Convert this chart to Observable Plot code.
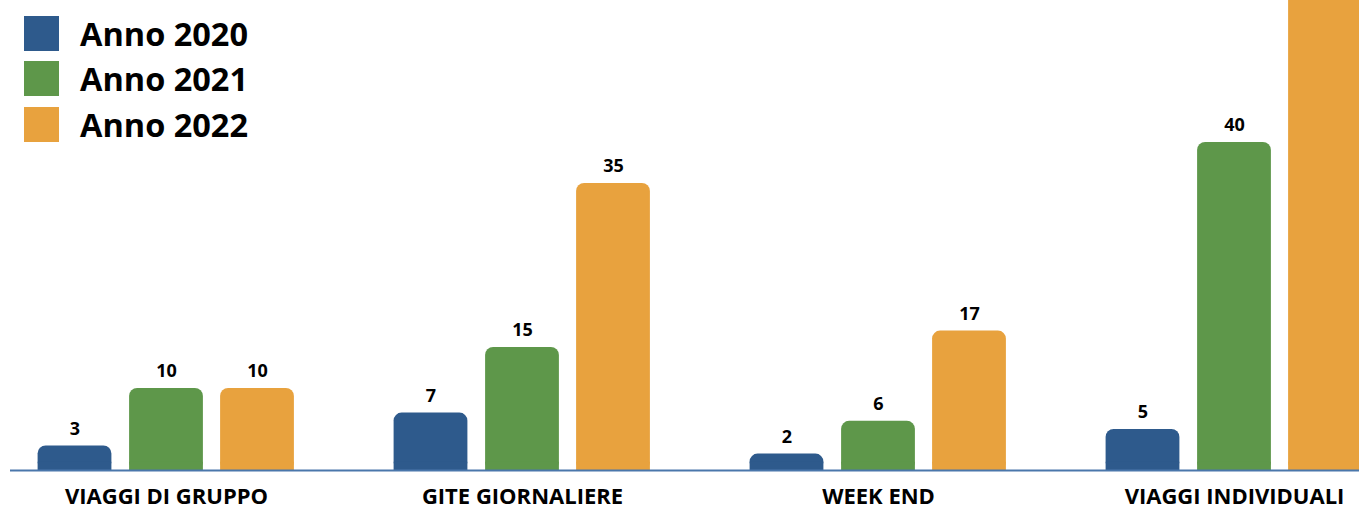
<!DOCTYPE html>
<html>
<head>
<meta charset="utf-8">
<script src="https://cdn.jsdelivr.net/npm/d3@7"></script>
<script src="https://cdn.jsdelivr.net/npm/@observablehq/plot@0.6"></script>
<style>
  html, body { margin: 0; padding: 0; background: #fff; }
  #wrap { position: relative; width: 1359px; height: 510px; font-family: "Open Sans", "Noto Sans", sans-serif; }
  #legend { position: absolute; left: 0; top: 0; }
  .row { position: absolute; left: 24px; display: flex; align-items: center; white-space: nowrap; }
  .sw { width: 35px; height: 35px; }
  .lab { margin-left: 21px; font-size: 32.5px; font-weight: 700; color: #000; line-height: 35px; }
</style>
</head>
<body>
<div id="wrap"><div id="chart"></div><div id="legend"></div></div>
<script>
const groups = ["VIAGGI DI GRUPPO", "GITE GIORNALIERE", "WEEK END", "VIAGGI INDIVIDUALI"];
const years = ["Anno 2020", "Anno 2021", "Anno 2022"];
const values2020 = [3, 7, 2, 5];
const values2021 = [10, 15, 6, 40];
const values2022 = [10, 35, 17, 60];
const colors = ["#2E5A8C", "#5E974A", "#E8A23E"];
const yMax = 57.3;

const seriesValues = [values2020, values2021, values2022];
const rows = [];
seriesValues.forEach((vals, si) => vals.forEach((v, gi) => rows.push({group: groups[gi], year: years[si], value: v})));

const offsets = [-91.5, 0, 91];
const inset = (356.2 - 74) / 2;

const marks = [];
years.forEach((yr, i) => {
  const data = rows.filter(d => d.year === yr);
  marks.push(Plot.barY(data, {x: "group", y: "value", fill: colors[i], dx: offsets[i], insetLeft: inset, insetRight: inset, rx: 8, clip: true}));
  marks.push(Plot.barY(data, {x: "group", y: d => Math.min(d.value, 1), fill: colors[i], dx: offsets[i], insetLeft: inset, insetRight: inset, clip: true}));
  marks.push(Plot.text(data.filter(d => d.value <= yMax - 3), {x: "group", y: "value", text: d => String(d.value), dx: offsets[i], dy: -17, lineAnchor: "middle", fontSize: 18, fontWeight: "bold", fill: "#000"}));
});
marks.push(Plot.ruleY([0], {stroke: "#4A77AB", strokeWidth: 2}));
marks.push(Plot.axisX({tickSize: 0, tickPadding: 18, fontSize: 22, fontWeight: "bold", fill: "#000", label: null}));

const chart = Plot.plot({
  width: 1359,
  height: 510,
  marginLeft: 10,
  marginRight: 0,
  marginTop: 0,
  marginBottom: 40,
  style: {fontFamily: "'Open Sans', 'Noto Sans', sans-serif", background: "#fff", color: "#000"},
  x: {type: "band", domain: groups, range: [165.5 - 178.1, 165.5 + 3.5 * 356.2], padding: 0, axis: null},
  y: {domain: [0, yMax], axis: null},
  marks
});
document.getElementById("chart").appendChild(chart);

const legend = document.getElementById("legend");
years.forEach((yr, i) => {
  const row = document.createElement("div");
  row.className = "row";
  row.style.top = (16 + i * 45.3) + "px";
  const sw = document.createElement("div");
  sw.className = "sw";
  sw.style.background = colors[i];
  const lab = document.createElement("span");
  lab.className = "lab";
  lab.textContent = yr;
  row.appendChild(sw);
  row.appendChild(lab);
  legend.appendChild(row);
});
</script>
</body>
</html>
